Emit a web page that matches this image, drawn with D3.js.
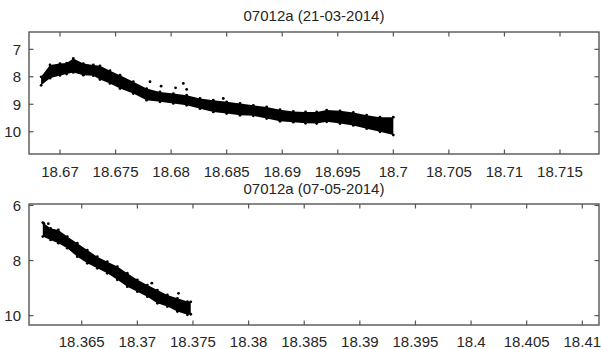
<!DOCTYPE html>
<html>
<head>
<meta charset="utf-8">
<script src="https://cdn.jsdelivr.net/npm/d3@7"></script>
<style>
  html, body { margin: 0; padding: 0; background: #fff; }
  svg { display: block; }
  text { font-family: "Liberation Sans", Arial, sans-serif; fill: #262626; }
</style>
</head>
<body>
<svg id="chart" width="601" height="349"></svg>
<script>
// ---------- Panel 1: 07012a (21-03-2014) ----------
const title1 = "07012a (21-03-2014)";
const jd1 = [18.6683, 18.6691, 18.6700, 18.6706, 18.6712, 18.6721, 18.6730, 18.6736, 18.6745, 18.6754,
             18.6766, 18.6778, 18.6790, 18.6802, 18.6814, 18.6826, 18.6838, 18.6850, 18.6862, 18.6874,
             18.6886, 18.6898, 18.6910, 18.6921, 18.6931, 18.6940, 18.6952, 18.6964, 18.6976, 18.6988, 18.7000];
const mag1Bright = [8.00, 7.57, 7.52, 7.50, 7.33, 7.52, 7.57, 7.60, 7.78, 7.94,
                    8.18, 8.43, 8.55, 8.61, 8.67, 8.79, 8.85, 8.91, 8.97, 9.04,
                    9.10, 9.20, 9.26, 9.28, 9.28, 9.21, 9.24, 9.30, 9.40, 9.47, 9.47];
const mag1Faint  = [8.31, 8.05, 7.95, 7.90, 7.84, 7.94, 7.96, 8.10, 8.24, 8.43,
                    8.61, 8.85, 8.91, 8.97, 9.04, 9.16, 9.28, 9.34, 9.40, 9.42,
                    9.52, 9.62, 9.65, 9.69, 9.70, 9.64, 9.70, 9.77, 9.89, 10.00, 10.12];
const out1Jd  = [18.6781, 18.6791, 18.6804, 18.6811, 18.6814, 18.6847];
const out1Mag = [8.18, 8.34, 8.40, 8.24, 8.46, 8.79];
const xTicks1 = [18.67, 18.675, 18.68, 18.685, 18.69, 18.695, 18.7, 18.705, 18.71, 18.715];
const yTicks1 = [7, 8, 9, 10];

// ---------- Panel 2: 07012a (07-05-2014) ----------
const title2 = "07012a (07-05-2014)";
const jd2 = [18.3615, 18.3622, 18.3629, 18.3637, 18.3646, 18.3655, 18.3664, 18.3673, 18.3682,
             18.3691, 18.3700, 18.3709, 18.3718, 18.3727, 18.3736, 18.3745, 18.3748];
const mag2Bright = [6.62, 6.83, 6.89, 7.13, 7.37, 7.62, 7.86, 8.04, 8.22,
                    8.46, 8.70, 8.89, 9.07, 9.25, 9.37, 9.49, 9.50];
const mag2Faint  = [7.13, 7.25, 7.37, 7.55, 7.86, 8.10, 8.28, 8.46, 8.70,
                    8.95, 9.13, 9.31, 9.55, 9.67, 9.85, 9.97, 9.95];
const out2Jd  = [18.3616, 18.3620, 18.3713, 18.3737];
const out2Mag = [6.65, 6.66, 8.82, 9.19];
const xTicks2 = [18.365, 18.37, 18.375, 18.38, 18.385, 18.39, 18.395, 18.4, 18.405, 18.41];
const yTicks2 = [6, 8, 10];

const svg = d3.select("#chart");
const frameColor = "#555";

function panel(cfg) {
  const { left, right, top, bottom, xDomain, yDomain, jd, bright, faint, oJd, oMag,
          xTicks, yTicks, title, titleY, labelY } = cfg;
  const x = d3.scaleLinear().domain(xDomain).range([left, right]);
  const y = d3.scaleLinear().domain(yDomain).range([top, bottom]);
  const g = svg.append("g");

  // band of observations
  const rows = jd.map((t, i) => ({ t, b: bright[i], f: faint[i] }));
  g.append("path")
    .datum(rows)
    .attr("d", d3.area().x(d => x(d.t)).y0(d => y(d.b)).y1(d => y(d.f)))
    .attr("fill", "#000");
  const pts = [];
  rows.forEach(d => { pts.push([d.t, d.b]); pts.push([d.t, d.f]); });
  oJd.forEach((t, i) => pts.push([t, oMag[i]]));
  g.selectAll("circle.pt").data(pts).join("circle")
    .attr("class", "pt")
    .attr("cx", d => x(d[0])).attr("cy", d => y(d[1]))
    .attr("r", 1.4).attr("fill", "#000");

  // ticks (inside, mirrored)
  const tl = 4.5;
  const tk = g.append("g").attr("stroke", frameColor).attr("stroke-width", 1.2);
  xTicks.forEach(v => {
    tk.append("line").attr("x1", x(v)).attr("x2", x(v)).attr("y1", bottom).attr("y2", bottom - tl);
    tk.append("line").attr("x1", x(v)).attr("x2", x(v)).attr("y1", top).attr("y2", top + tl);
  });
  yTicks.forEach(v => {
    tk.append("line").attr("x1", left).attr("x2", left + tl).attr("y1", y(v)).attr("y2", y(v));
    tk.append("line").attr("x1", right).attr("x2", right - tl).attr("y1", y(v)).attr("y2", y(v));
  });

  // frame
  g.append("rect").attr("x", left).attr("y", top)
    .attr("width", right - left).attr("height", bottom - top)
    .attr("fill", "none").attr("stroke", frameColor).attr("stroke-width", 1.4);

  // labels
  g.selectAll("text.xl").data(xTicks).join("text")
    .attr("class", "xl")
    .attr("x", d => x(d)).attr("y", labelY)
    .attr("text-anchor", "middle").attr("font-size", 15)
    .text(d => d3.format("")(d));
  g.selectAll("text.yl").data(yTicks).join("text")
    .attr("class", "yl")
    .attr("x", left - 8).attr("y", d => y(d)).attr("dy", "0.36em")
    .attr("text-anchor", "end").attr("font-size", 15)
    .text(d => d);
  g.append("text").attr("x", (left + right) / 2).attr("y", titleY)
    .attr("text-anchor", "middle").attr("font-size", 15).text(title);
}

panel({
  left: 29, right: 599, top: 32, bottom: 154,
  xDomain: [18.66721, 18.71851], yDomain: [6.37, 10.81],
  jd: jd1, bright: mag1Bright, faint: mag1Faint, oJd: out1Jd, oMag: out1Mag,
  xTicks: xTicks1, yTicks: yTicks1, title: title1, titleY: 21, labelY: 176.5
});
panel({
  left: 29, right: 599, top: 204, bottom: 325,
  xDomain: [18.36026, 18.4115], yDomain: [5.946, 10.34],
  jd: jd2, bright: mag2Bright, faint: mag2Faint, oJd: out2Jd, oMag: out2Mag,
  xTicks: xTicks2, yTicks: yTicks2, title: title2, titleY: 193.5, labelY: 346.5
});
</script>
</body>
</html>
